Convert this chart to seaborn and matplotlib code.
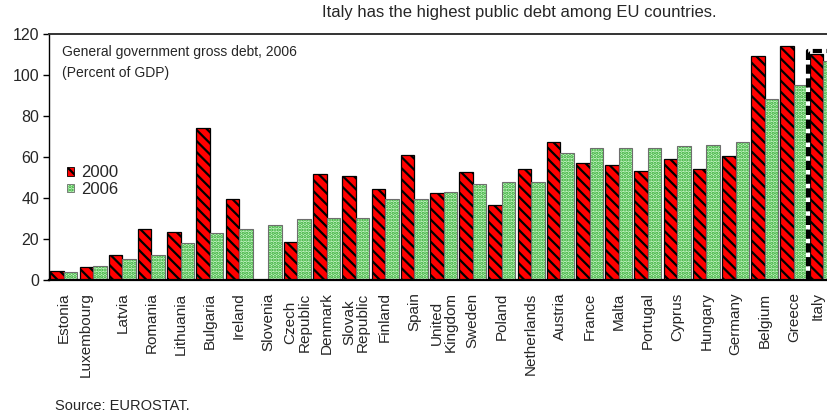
import numpy as np
import pandas as pd
import matplotlib
matplotlib.use("Agg")
import matplotlib.pyplot as plt
import matplotlib.patches as mpatches
import matplotlib.colors as mcolors
from matplotlib.transforms import ScaledTranslation
import seaborn as sns

# General government gross debt, percent of GDP
countries = ["Estonia", "Luxembourg", "Latvia", "Romania", "Lithuania", "Bulgaria",
             "Ireland", "Slovenia", "Czech Republic", "Denmark", "Slovak Republic",
             "Finland", "Spain", "United Kingdom", "Sweden", "Poland", "Netherlands",
             "Austria", "France", "Malta", "Portugal", "Cyprus", "Hungary", "Germany",
             "Belgium", "Greece", "Italy"]
debt_2000 = [4.6, 6.5, 12.2, 24.7, 23.4, 74.3, 39.4, np.nan, 18.4, 51.9, 50.6,
             44.2, 61.0, 42.3, 52.5, 36.6, 54.0, 67.2, 56.9, 56.1, 53.3, 59.0,
             54.1, 60.5, 109.3, 114.1, 110.4]
debt_2006 = [3.9, 6.6, 10.1, 12.1, 17.9, 22.8, 24.7, 26.7, 29.6, 30.2, 30.2,
             39.3, 39.3, 42.8, 47.0, 47.6, 47.6, 61.8, 64.5, 64.5, 64.5, 65.2,
             65.9, 67.2, 88.1, 95.1, 106.9]
tick_labels = ["Estonia", "Luxembourg\n", "Latvia", "Romania", "Lithuania", "Bulgaria",
               "Ireland", "Slovenia", "Czech\nRepublic", "Denmark", "Slovak\nRepublic",
               "Finland", "Spain", "United\nKingdom", "Sweden", "Poland", "Netherlands",
               "Austria", "France", "Malta", "Portugal", "Cyprus", "Hungary", "Germany",
               "Belgium", "Greece", "Italy"]
years = ["2000", "2006"]
highlight = "Italy"

df = pd.concat([
    pd.DataFrame({"country": countries, "year": years[0], "debt": debt_2000}),
    pd.DataFrame({"country": countries, "year": years[1], "debt": debt_2006}),
]).dropna()

sns.set_theme(style="white")
plt.rcParams["font.family"] = ["Liberation Sans", "DejaVu Sans"]
plt.rcParams["hatch.linewidth"] = 1.6

RED, GREEN, DOT = "#ff0000", "#c4f5c4", "#2ea82e"

fig = plt.figure(figsize=(8.27, 4.13), dpi=100)
ax = fig.add_axes([49 / 827, 1 - 280 / 413, 789 / 827, 246 / 413])

sns.barplot(data=df, x="country", y="debt", hue="year", order=countries,
            hue_order=years, palette={years[0]: RED, years[1]: GREEN},
            saturation=1, width=0.92, gap=0, errorbar=None, legend=False, ax=ax)

styles = {
    0: dict(face=RED, edge="black", hatch="\\\\\\", hatch_color="black", lw=0.9),
    1: dict(face=GREEN, edge="#6e6e6e", hatch=".....", hatch_color=DOT, lw=0.8),
}
for i, cont in enumerate(ax.containers):
    st = styles[i]
    for bar in cont:
        bar.set_facecolor(st["face"])
        bar.set_edgecolor(st["edge"])
        bar.set_linewidth(st["lw"])
        bar.set_hatch(st["hatch"])
        bar._hatch_color = mcolors.to_rgba(st["hatch_color"])

# Dashed frame around the highlighted country
hi = countries.index(highlight)
top = np.nanmax([debt_2000[hi], debt_2006[hi]]) + 1.2
ax.plot([hi - 0.51, hi - 0.51, hi + 0.6, hi + 0.6], [0, top, top, 0],
        color="black", lw=3, linestyle=(0, (2.2, 1.1)), gapcolor="white",
        zorder=6, solid_capstyle="butt")

ax.set_xlim(-0.51, len(countries) - 0.49)
ax.set_ylim(0, 120)
ax.set_yticks(range(0, 121, 20))
ax.set_xlabel("")
ax.set_ylabel("")
ax.set_xticks(range(len(countries)))
ax.set_xticklabels(tick_labels, rotation=90, fontsize=11, linespacing=1.0)
ax.tick_params(axis="x", length=0, pad=9)
ax.tick_params(axis="y", length=4, width=1, direction="out", color="black",
               labelsize=11.5, pad=3, left=True)

# keep the last country name inside the figure edge
last = ax.get_xticklabels()[hi]
last.set_transform(last.get_transform() + ScaledTranslation(-0.05, 0, fig.dpi_scale_trans))

for side in ["left", "bottom"]:
    ax.spines[side].set_color("black")
ax.spines["left"].set_linewidth(1.0)
ax.spines["bottom"].set_linewidth(1.6)
ax.spines["top"].set_color("#333333")
ax.spines["top"].set_linewidth(1.4)
ax.spines["right"].set_visible(False)

handles = [mpatches.Patch(facecolor=styles[i]["face"], edgecolor=styles[i]["edge"],
                          hatch=styles[i]["hatch"], linewidth=0.6, label=years[i])
           for i in range(2)]
leg = ax.legend(handles=handles, loc="center left", bbox_to_anchor=(0.0228, 0.402),
                frameon=False, fontsize=12, handlelength=0.42, handleheight=0.42,
                handletextpad=0.45, labelspacing=0.1, borderpad=0, borderaxespad=0)
for i, p in enumerate(leg.get_patches()):
    p._hatch_color = mcolors.to_rgba(styles[i]["hatch_color"])

ax.text(0.0165, 0.927, "General government gross debt, 2006", transform=ax.transAxes,
        fontsize=10, va="center", ha="left")
ax.text(0.0165, 0.841, "(Percent of GDP)", transform=ax.transAxes,
        fontsize=10, va="center", ha="left")

fig.text(519 / 827, 1 - 12 / 413, "Italy has the highest public debt among EU countries.",
         ha="center", va="center", fontsize=12)
fig.text(55 / 827, 1 - 406 / 413, "Source: EUROSTAT.", ha="left", va="center",
         fontsize=10.5)

fig.savefig("out.png", dpi=100)
